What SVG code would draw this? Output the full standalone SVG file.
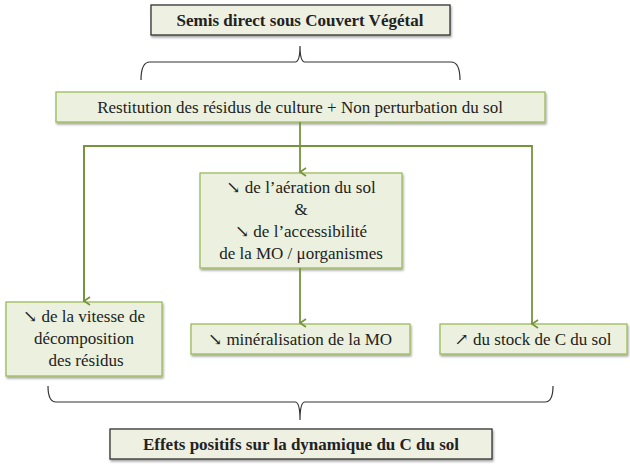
<svg xmlns="http://www.w3.org/2000/svg" width="630" height="470" viewBox="0 0 630 470">
<style>
.g{fill:#ebf1de;stroke:#9bbb59;stroke-width:1.3;filter:url(#sh)}
.k{fill:#eef0e2;stroke:#333;stroke-width:1.3;filter:url(#sh)}
text{font-family:"Liberation Serif","DejaVu Serif",serif;font-size:17px;fill:#222;text-anchor:middle}
.b{font-weight:bold}
.c{fill:none;stroke:#77933c;stroke-width:1.8}
.br{fill:none;stroke:#333;stroke-width:1.2}
</style>
<defs>
<filter id="sh" x="-10%" y="-10%" width="120%" height="140%"><feDropShadow dx="1" dy="2" stdDeviation="1" flood-color="#000" flood-opacity="0.35"/></filter>
<marker id="a" markerWidth="10" markerHeight="10" refX="5" refY="7" orient="auto" markerUnits="userSpaceOnUse" viewBox="0 0 10 10"><path d="M1,1 L5,7 L9,1" fill="none" stroke="#77933c" stroke-width="1.6"/></marker>
</defs>
<g id="n-top"><rect class="k" x="151" y="5" width="299" height="30"/><text class="b" x="300" y="26">Semis direct sous Couvert Végétal</text></g>
<g id="n-rest"><rect class="g" x="56" y="92" width="489" height="30"/><text x="300" y="113">Restitution des résidus de culture + Non perturbation du sol</text></g>
<g id="n-aer"><rect class="g" x="200" y="173" width="202" height="95"/>
<text x="301" y="193">↘ de l’aération du sol</text><text x="301" y="215">&amp;</text><text x="301" y="237">↘ de l’accessibilité</text><text x="301" y="259">de la MO / μorganismes</text></g>
<g id="n-vit"><rect class="g" x="6" y="302" width="156" height="74"/>
<text x="84" y="322">↘ de la vitesse de</text><text x="84" y="344">décomposition</text><text x="86" y="366">des résidus</text></g>
<g id="n-min"><rect class="g" x="191" y="324" width="219" height="30"/><text x="300" y="345">↘ minéralisation de la MO</text></g>
<g id="n-stock"><rect class="g" x="440" y="324" width="187" height="30"/><text x="533" y="345">↗ du stock de C du sol</text></g>
<g id="n-eff"><rect class="k" x="110" y="429" width="382" height="30"/><text class="b" x="301" y="450">Effets positifs sur la dynamique du C du sol</text></g>
<g id="connectors">
<path class="br" d="M141,80 Q141,62 150,62 L295,62 Q300,62 300,46 Q300,62 305,62 L451,62 Q460,62 460,80"/>
<path class="br" d="M48,386 Q48,402 56,402 L295,402 Q300,402 300,420 Q300,402 305,402 L545,402 Q553,402 553,386"/>
<path class="c" d="M300,122 L300,172" marker-end="url(#a)"/>
<path class="c" d="M84,302 L84,146 L532,146 L532,324" marker-end="url(#a)"/>
<path class="c" d="M84,146 L84,301" marker-end="url(#a)"/>
<path class="c" d="M300,268 L300,323" marker-end="url(#a)"/>
</g>
</svg>
